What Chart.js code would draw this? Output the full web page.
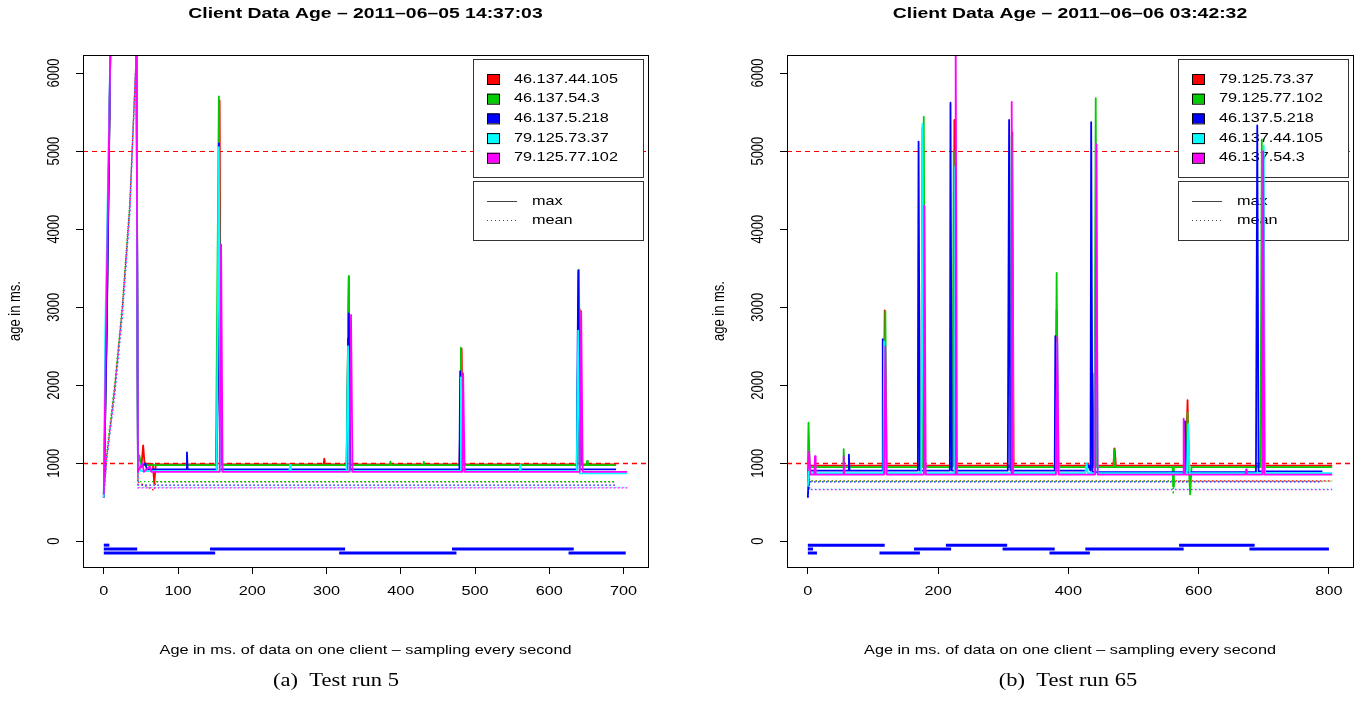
<!DOCTYPE html>
<html>
<head>
<meta charset="utf-8">
<script src="https://cdn.jsdelivr.net/npm/chart.js@4/dist/chart.umd.min.js"></script>
<style>
  body { margin: 0; background: #fff; width: 1360px; height: 703px; overflow: hidden; position: relative; }
  canvas { position: absolute; top: 0; }
  #run5 { left: 0; }
  #run65 { left: 680px; }
</style>
</head>
<body>
<canvas id="run5" width="680" height="703"></canvas>
<canvas id="run65" width="680" height="703"></canvas>
<script>
'use strict';

const colors = ['#ff0000', '#00cd00', '#0000ff', '#00ffff', '#ff00ff'];
const yTicks = [0, 1000, 2000, 3000, 4000, 5000, 6000];
const refLines = [1000, 5000];
const refWidths = [1.5, 1];
const laneLevels = [-50, -100, -150];

// test run 5
const run5Title = 'Client Data Age \u2013 2011\u201306\u201305 14:37:03';
const run5Caption = '(a)  Test run 5';
const run5XTicks = [0, 100, 200, 300, 400, 500, 600, 700];
const run5Clients = ['46.137.44.105', '46.137.54.3', '46.137.5.218', '79.125.73.37', '79.125.77.102'];

const run5Max0 = [[0,560],[4,2800],[9,6400],[44,6400],[46,990],[51,990],[53,1230],[55,990],[66,990],[68,740],[70,985],[151,985],[154,2100],[156,5650],[158,985],[296,985],[297,1060],[298,985],[327,985],[330,3390],[332,985],[479,985],[482,2470],[484,985],[638,985],[641,2970],[643,985],[690,985]];
const run5Max1 = [[0,600],[4,2800],[9,6400],[44,6400],[46,1000],[48,1100],[50,975],[151,975],[155,5700],[157,975],[327,975],[330,3400],[332,975],[385,975],[386,1020],[387,975],[430,975],[431,1020],[432,975],[480,975],[481,2480],[483,975],[637,975],[640,3480],[642,975],[650,975],[651,1030],[652,975],[690,975]];
const run5Max2 = [[0,560],[4,2700],[9,6400],[44,6400],[46,920],[56,1000],[58,920],[111,920],[112,1140],[113,920],[152,920],[154,2150],[155,5100],[157,920],[328,920],[329,2600],[330,2920],[332,920],[479,920],[480,2180],[482,920],[637,920],[639,3470],[641,920],[690,920]];
const run5Max3 = [[0,560],[2,2700],[9,6400],[44,6400],[46,900],[48,1000],[50,900],[152,900],[153,2200],[155,5050],[157,900],[250,900],[251,980],[252,900],[327,900],[329,2500],[331,900],[480,900],[481,2100],[483,900],[560,900],[561,980],[562,900],[637,900],[639,2700],[641,870],[705,870]];
const run5Max4 = [[0,600],[3,2700],[9,6400],[44,6400],[46,890],[52,1000],[54,890],[62,960],[64,890],[156,890],[157,2200],[158,3800],[160,890],[331,890],[333,2900],[335,890],[483,890],[484,2150],[486,890],[641,890],[643,2950],[645,890],[705,890]];

const run5Mean0 = [[0,580],[4,1100],[15,2000],[25,3000],[35,4300],[44,6300],[46,760],[68,650],[70,760],[690,760]];
const run5Mean1 = [[0,600],[4,1150],[15,2050],[25,3050],[35,4350],[44,6300],[46,765],[690,765]];
const run5Mean2 = [[0,560],[4,1050],[15,1950],[25,2950],[35,4250],[44,6300],[46,720],[690,720]];
const run5Mean3 = [[0,560],[3,1000],[15,1900],[25,2900],[35,4200],[44,6300],[46,690],[705,690]];
const run5Mean4 = [[0,600],[3,1000],[15,1900],[25,2900],[35,4200],[44,6300],[46,685],[705,685]];

const run5Lane0 = [[0,7.5]];
const run5Lane1 = [[0,45],[143,325],[469,633]];
const run5Lane2 = [[0,150],[317,475],[626,703]];

// test run 65
const run65Title = 'Client Data Age \u2013 2011\u201306\u201306 03:42:32';
const run65Caption = '(b)  Test run 65';
const run65XTicks = [0, 200, 400, 600, 800];
const run65Clients = ['79.125.73.37', '79.125.77.102', '46.137.5.218', '46.137.44.105', '46.137.54.3'];

const run65Max0 = [[0,700],[1,1000],[3,970],[116,970],[118,2960],[120,970],[174,970],[176,5300],[178,970],[223,970],[225,5400],[227,970],[312,970],[314,5240],[316,970],[380,970],[382,2960],[384,970],[438,970],[440,2150],[442,970],[469,970],[471,1190],[473,970],[580,970],[583,1810],[585,970],[695,970],[697,2800],[699,970],[805,970]];
const run65Max1 = [[0,1000],[1,1520],[3,950],[54,950],[55,1180],[56,950],[117,950],[119,2950],[121,950],[176,950],[178,5440],[180,950],[222,950],[224,5000],[226,950],[311,950],[313,5200],[315,950],[380,950],[382,3440],[384,950],[440,950],[442,5680],[444,950],[469,950],[470,1180],[472,950],[560,950],[561,700],[562,950],[581,950],[583,1650],[585,950],[587,600],[589,950],[695,950],[697,5150],[699,950],[805,950]];
const run65Max2 = [[0,560],[2,1000],[4,906],[62,906],[63,1110],[64,906],[114,906],[115,2590],[117,906],[168,906],[169,2070],[170,5120],[172,906],[218,906],[219,5620],[221,906],[307,906],[309,5400],[311,906],[379,906],[380,2630],[382,906],[428,906],[430,980],[434,906],[435,5370],[437,885],[578,885],[579,1540],[581,885],[688,885],[690,5330],[692,895],[790,895]];
const run65Max3 = [[0,700],[2,1000],[4,873],[116,873],[117,2560],[119,873],[174,873],[176,5350],[178,873],[225,873],[226,4800],[228,873],[312,873],[313,5000],[315,873],[381,873],[383,2550],[385,873],[426,873],[428,1000],[430,873],[441,873],[443,5090],[445,873],[582,873],[584,1500],[586,873],[698,873],[700,5070],[702,873],[805,873]];
const run65Max4 = [[0,900],[2,1150],[4,855],[10,855],[11,1090],[12,855],[54,855],[55,1090],[56,855],[117,855],[119,2500],[121,855],[178,855],[179,4300],[181,855],[226,855],[227,6400],[229,855],[312,855],[313,5630],[315,855],[381,855],[383,2620],[385,855],[441,855],[443,5090],[445,855],[576,855],[577,1570],[579,855],[672,855],[673,920],[674,855],[698,855],[699,5000],[701,855],[805,855]];

const run65Mean0 = [[0,700],[3,775],[805,775]];
const run65Mean1 = [[0,900],[3,770],[560,770],[561,600],[562,770],[586,770],[587,600],[588,770],[805,770]];
const run65Mean2 = [[0,560],[3,760],[790,760]];
const run65Mean3 = [[0,700],[3,668],[805,668]];
const run65Mean4 = [[0,900],[3,662],[805,662]];

const run65Lane0 = [[0,118],[212,306],[570,686]];
const run65Lane1 = [[0,8],[163,220],[299,379],[426,577],[678,800]];
const run65Lane2 = [[0,14],[110,172],[371,433]];

// text is drawn wider than tall, like the plots it sits with
const SX = 1.25;
const FONT = "'Liberation Sans', Arial, sans-serif";
const BASE = '13px ' + FONT;

function toPoints(pairs) {
    return pairs.map(p => ({ x: p[0], y: p[1] }));
}

function lanePoints(spans, level) {
    let pts = [];
    spans.forEach(s => {
        pts.push({ x: s[0], y: level }, { x: s[1], y: level }, { x: s[1], y: null });
    });
    return pts;
}

function drawText(ctx, text, x, y, font, align, rotate) {
    ctx.save();
    ctx.translate(x, y);
    ctx.scale(SX, 1);
    if (rotate) ctx.rotate(-Math.PI / 2);
    ctx.font = font;
    ctx.fillStyle = '#000';
    ctx.textAlign = align || 'center';
    ctx.textBaseline = 'middle';
    ctx.fillText(text, 0, 0);
    ctx.restore();
}

function buildDatasets(maxes, means, lanes) {
    let sets = [];
    for (let i = 0; i < maxes.length; i++) {
        sets.push({
            data: toPoints(means[i]),
            borderColor: colors[i],
            borderWidth: 1.3,
            borderDash: [1.5, 2.5],
            order: 10 - i
        });
        sets.push({
            data: toPoints(maxes[i]),
            borderColor: colors[i],
            borderWidth: 1.8,
            borderJoinStyle: 'round',
            order: 5 - i
        });
    }
    for (let j = 0; j < lanes.length; j++) {
        sets.push({
            data: lanePoints(lanes[j], laneLevels[j]),
            borderColor: '#0000ff',
            borderWidth: 3,
            order: 0
        });
    }
    return sets;
}

function rPlot(cfg) {
    return {
        id: 'rplot',
        beforeDatasetsDraw(chart) {
            const ctx = chart.ctx;
            const ca = chart.chartArea;
            const y = chart.scales.y;
            // reference lines
            ctx.save();
            ctx.strokeStyle = '#ff0000';
            ctx.setLineDash([5, 4]);
            refLines.forEach((v, k) => {
                const py = Math.round(y.getPixelForValue(v)) + 0.5;
                ctx.lineWidth = refWidths[k];
                ctx.beginPath();
                ctx.moveTo(ca.left, py);
                ctx.lineTo(ca.right, py);
                ctx.stroke();
            });
            ctx.restore();

            // legends
            const right = ca.right - 5;
            const left = right - 170;
            const top = ca.top + 4;
            ctx.save();
            ctx.fillStyle = '#fff';
            ctx.strokeStyle = '#333';
            ctx.lineWidth = 1;
            ctx.fillRect(left, top, 170, 118);
            ctx.strokeRect(left + 0.5, top + 0.5, 170, 118);
            ctx.fillRect(left, top + 122, 170, 59);
            ctx.strokeRect(left + 0.5, top + 122.5, 170, 59);
            cfg.clients.forEach((name, i) => {
                const cy = top + 20 + i * 19.7;
                ctx.fillStyle = colors[i];
                ctx.fillRect(left + 14, cy - 5, 12, 10);
                ctx.strokeStyle = '#000';
                ctx.strokeRect(left + 14.5, cy - 4.5, 12, 10);
                drawText(ctx, name, left + 41, cy, BASE, 'left');
            });
            ctx.strokeStyle = '#444';
            ctx.beginPath();
            ctx.moveTo(left + 14, top + 142.5);
            ctx.lineTo(left + 44, top + 142.5);
            ctx.stroke();
            ctx.setLineDash([1, 3]);
            ctx.beginPath();
            ctx.moveTo(left + 14, top + 161.5);
            ctx.lineTo(left + 44, top + 161.5);
            ctx.stroke();
            ctx.restore();
            drawText(ctx, 'max', left + 59, top + 142, BASE, 'left');
            drawText(ctx, 'mean', left + 59, top + 161, BASE, 'left');
        },
        afterDatasetsDraw(chart) {
            const ctx = chart.ctx;
            const ca = chart.chartArea;
            const x = chart.scales.x;
            const y = chart.scales.y;
            ctx.save();
            ctx.strokeStyle = '#000';
            ctx.lineWidth = 1;
            ctx.strokeRect(Math.round(ca.left) + 0.5, Math.round(ca.top) + 0.5,
                Math.round(ca.right - ca.left), Math.round(ca.bottom - ca.top));
            ctx.restore();

            const midX = (ca.left + ca.right) / 2;
            const midY = (ca.top + ca.bottom) / 2;
            x.ticks.forEach(t => {
                drawText(ctx, String(t.value), x.getPixelForValue(t.value), ca.bottom + 24, BASE);
            });
            y.ticks.forEach(t => {
                drawText(ctx, String(t.value), ca.left - 28, y.getPixelForValue(t.value), BASE, 'center', true);
            });
            drawText(ctx, 'age in ms.', ca.left - 67, midY, BASE, 'center', true);
            drawText(ctx, 'Age in ms. of data on one client \u2013 sampling every second', midX, ca.bottom + 83, BASE);
            drawText(ctx, cfg.title, midX, 14, 'bold 15.5px ' + FONT);
            drawText(ctx, cfg.caption, cfg.captionX, 681, "18px 'Liberation Serif', 'DejaVu Serif', serif");
        }
    };
}

function makeChart(id, cfg) {
    return new Chart(document.getElementById(id), {
        type: 'line',
        data: { datasets: buildDatasets(cfg.maxes, cfg.means, cfg.lanes) },
        options: {
            responsive: false,
            animation: false,
            devicePixelRatio: 1,
            layout: { padding: { top: 55, right: cfg.padRight, bottom: 0, left: 0 } },
            elements: { point: { radius: 0 }, line: { tension: 0 } },
            plugins: { legend: { display: false }, tooltip: { enabled: false } },
            scales: {
                x: {
                    type: 'linear',
                    min: cfg.xMin,
                    max: cfg.xMax,
                    afterBuildTicks: ax => { ax.ticks = cfg.xTicks.map(v => ({ value: v })); },
                    afterFit: ax => { ax.height = 136; },
                    ticks: { display: false },
                    grid: { drawOnChartArea: false, tickLength: 7, color: '#000' },
                    border: { display: false }
                },
                y: {
                    type: 'linear',
                    min: -330,
                    max: 6232,
                    afterBuildTicks: ax => { ax.ticks = yTicks.map(v => ({ value: v })); },
                    afterFit: ax => { ax.width = cfg.yWidth; },
                    ticks: { display: false },
                    grid: { drawOnChartArea: false, tickLength: 7, color: '#000' },
                    border: { display: false }
                }
            }
        },
        plugins: [rPlot(cfg)]
    });
}

makeChart('run5', {
    title: run5Title,
    caption: run5Caption,
    captionX: 336,
    clients: run5Clients,
    xTicks: run5XTicks,
    xMin: -28,
    xMax: 733,
    yWidth: 83,
    padRight: 32,
    maxes: [run5Max0, run5Max1, run5Max2, run5Max3, run5Max4],
    means: [run5Mean0, run5Mean1, run5Mean2, run5Mean3, run5Mean4],
    lanes: [run5Lane0, run5Lane1, run5Lane2]
});

makeChart('run65', {
    title: run65Title,
    caption: run65Caption,
    captionX: 388,
    clients: run65Clients,
    xTicks: run65XTicks,
    xMin: -32,
    xMax: 837,
    yWidth: 107,
    padRight: 7,
    maxes: [run65Max0, run65Max1, run65Max2, run65Max3, run65Max4],
    means: [run65Mean0, run65Mean1, run65Mean2, run65Mean3, run65Mean4],
    lanes: [run65Lane0, run65Lane1, run65Lane2]
});
</script>
</body>
</html>
